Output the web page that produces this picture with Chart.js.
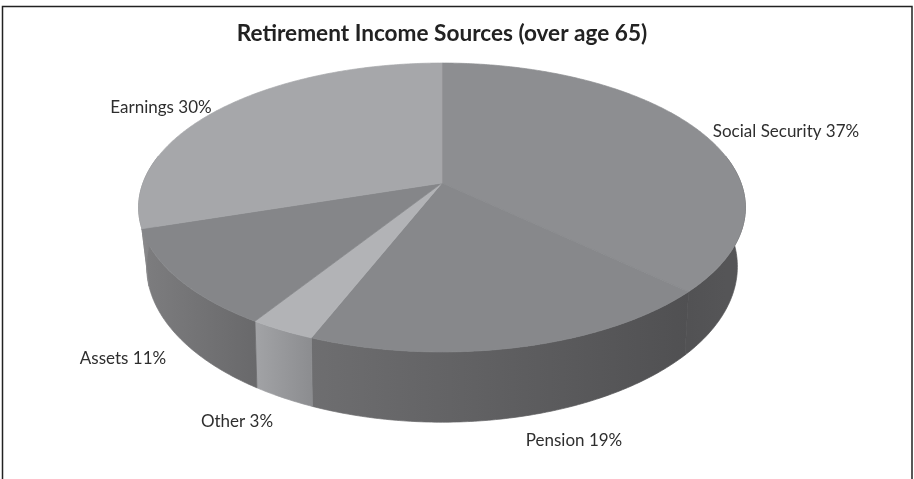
<!DOCTYPE html>
<html>
<head>
<meta charset="utf-8">
<style>
  html, body { margin: 0; padding: 0; background: #fff; }
  #wrap { width: 914px; height: 479px; }
</style>
<script src="https://cdn.jsdelivr.net/npm/chart.js@4.4.0/dist/chart.umd.min.js"></script>
</head>
<body>
<div id="wrap"><canvas id="pie" width="914" height="479"></canvas></div>
<script>
const categories = ['Social Security', 'Pension', 'Other', 'Assets', 'Earnings'];
const shares = [37, 19, 3, 11, 30];

const topColors = ['#8d8e91', '#87888b', '#b2b3b6', '#858689', '#a6a7aa'];
// wall shading runs left to right across each slice
const wallColors = [
  ['#525254', '#555557'],
  ['#6e6e70', '#505052'],
  ['#a2a3a6', '#8c8d90'],
  ['#7d7d7f', '#69696b'],
  ['#8a8a8c', '#7d7d7f']
];

// top and bottom rims of the disc, tilted with a little perspective
const topRim = { cx: 442, cy: 183, rx: 299, ry: 140.3, k: 0.1695 };
const botRim = { cx: 442, cy: 237, rx: 290, ry: 150, k: 0.19 };

function project(rim, a) {
  const u = Math.cos(a), v = Math.sin(a);
  const s = 1 / (1 - rim.k * v);
  return [rim.cx + rim.rx * u * s, rim.cy + rim.ry * v * s];
}

function traceArc(ctx, rim, from, to) {
  const steps = Math.max(2, Math.ceil(Math.abs(to - from) / 0.01));
  for (let i = 0; i <= steps; i++) {
    const [x, y] = project(rim, from + (to - from) * i / steps);
    ctx.lineTo(x, y);
  }
}

// label centres, one per category
const labelAnchors = [[786, 132], [574, 441], [237, 422], [123, 359], [161, 108]];

const disc3d = {
  id: 'disc3d',
  beforeDatasetsDraw(chart) {
    const ctx = chart.ctx;
    const arcs = chart.getDatasetMeta(0).data;

    ctx.save();
    ctx.lineJoin = 'round';
    ctx.lineWidth = 0.7;

    // side wall first, the top face covers whatever sits behind it
    arcs.forEach((arc, i) => {
      const a0 = Math.max(arc.startAngle, -0.2);
      const a1 = Math.min(arc.endAngle, Math.PI + 0.2);
      if (a1 <= a0) return;
      const xs = [project(topRim, a0)[0], project(topRim, a1)[0]];
      const grad = ctx.createLinearGradient(Math.min(...xs), 0, Math.max(...xs), 0);
      grad.addColorStop(0, wallColors[i][0]);
      grad.addColorStop(1, wallColors[i][1]);
      ctx.beginPath();
      traceArc(ctx, topRim, a0, a1);
      traceArc(ctx, botRim, a1, a0);
      ctx.closePath();
      ctx.fillStyle = grad;
      ctx.strokeStyle = grad;
      ctx.fill();
      ctx.stroke();
    });

    arcs.forEach((arc, i) => {
      ctx.beginPath();
      ctx.moveTo(topRim.cx, topRim.cy);
      traceArc(ctx, topRim, arc.startAngle, arc.endAngle);
      ctx.closePath();
      ctx.fillStyle = topColors[i];
      ctx.strokeStyle = topColors[i];
      ctx.fill();
      ctx.stroke();
    });

    ctx.restore();
    return false;
  },
  afterDraw(chart) {
    const ctx = chart.ctx;
    ctx.save();
    ctx.font = '17px Lato';
    ctx.fillStyle = '#2e2e2e';
    ctx.textAlign = 'center';
    ctx.textBaseline = 'middle';
    categories.forEach((name, i) => {
      ctx.fillText(`${name} ${shares[i]}%`, labelAnchors[i][0], labelAnchors[i][1]);
    });
    // frame round the figure, open at the foot
    ctx.strokeStyle = '#222';
    ctx.lineWidth = 1.5;
    ctx.beginPath();
    ctx.moveTo(2.5, 479);
    ctx.lineTo(2.5, 6.5);
    ctx.lineTo(912, 6.5);
    ctx.lineTo(912, 479);
    ctx.stroke();
    ctx.restore();
  }
};

new Chart(document.getElementById('pie'), {
  type: 'pie',
  data: {
    labels: categories,
    datasets: [{ data: shares, backgroundColor: topColors, borderWidth: 0 }]
  },
  options: {
    responsive: false,
    animation: false,
    layout: { padding: { right: 30 } },
    plugins: {
      legend: { display: false },
      tooltip: { enabled: false },
      title: {
        display: true,
        text: 'Retirement Income Sources (over age 65)',
        color: '#222',
        font: { family: 'Lato', size: 22.6, weight: 'bold' },
        padding: { top: 20, bottom: 10 }
      }
    }
  },
  plugins: [disc3d]
});
</script>
</body>
</html>
